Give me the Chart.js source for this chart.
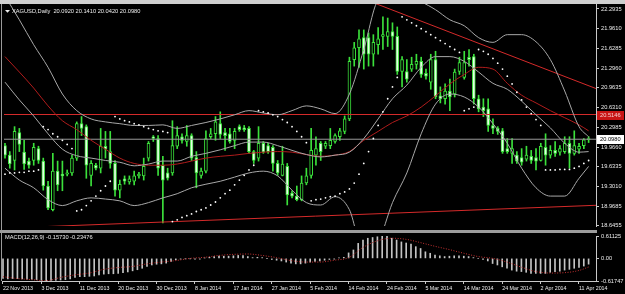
<!DOCTYPE html>
<html><head><meta charset="utf-8">
<script src="https://cdn.jsdelivr.net/npm/chart.js@4"></script>
<style>
html,body{margin:0;padding:0;background:#000;}
body{width:625px;height:294px;position:relative;overflow:hidden;}
#main{position:absolute;left:0;top:0;}
#macd{position:absolute;left:0;top:233px;}
#topbar{position:absolute;left:0;top:0;width:625px;height:4px;background:#cfcfcf;}
#sep{position:absolute;left:0;top:230px;width:597px;height:3px;background:#9c9c9c;}
#lb{position:absolute;left:1px;top:4px;width:1px;height:277px;background:#9a9a9a;}
</style></head><body>
<canvas id="main" width="625" height="230"></canvas>
<canvas id="macd" width="625" height="61"></canvas>
<div id="topbar"></div><div id="sep"></div><div id="lb"></div>
<script>
// ---------------- DATA ----------------
const symbol = 'XAGUSD,Daily';
const dateTickIdx = [0,8,16,24,32,40,48,56,64,72,80,88,96,104,112,120];
const dateTickLabels = ["22 Nov 2013","3 Dec 2013","11 Dec 2013","20 Dec 2013","30 Dec 2013","8 Jan 2014","17 Jan 2014","27 Jan 2014","5 Feb 2014","14 Feb 2014","24 Feb 2014","5 Mar 2014","14 Mar 2014","24 Mar 2014","2 Apr 2014","11 Apr 2014"];
const priceTicks = [22.2935,21.9610,21.6285,21.2960,20.9635,20.6310,20.2985,19.9660,19.6335,19.3010,18.9685,18.6455];
const macdTickValues = [-0.61747, 0, 0.61125];
const macdTickLabels = ["-0.61747","0.00","0.61125"];

const open = [
19.99,19.83,19.74,20.21,19.88,19.73,19.74,19.94,19.73,19.31,
18.91,19.56,19.51,19.51,19.53,19.78,20.36,20.31,19.49,19.66,
19.61,19.98,19.89,19.69,19.24,19.43,19.38,19.39,19.48,19.48,
19.78,20.14,20.11,19.66,19.53,19.53,19.98,20.14,20.06,20.16,
19.79,19.49,19.56,20.14,20.19,20.36,20.21,20.19,20.08,20.31,
20.29,20.28,19.89,19.78,20.03,19.99,19.96,19.69,19.49,19.64,
19.19,19.14,19.08,19.36,19.49,19.83,20.03,19.98,19.99,20.06,
20.14,20.23,20.44,21.44,21.64,21.81,21.81,21.53,21.69,21.83,
21.83,21.91,21.83,21.24,21.24,21.28,21.36,21.41,21.21,21.06,
21.44,20.83,20.78,20.91,20.86,21.24,21.14,21.48,21.49,20.78,
20.64,20.61,20.33,20.28,20.24,19.94,19.86,19.83,19.79,19.76,
19.81,19.79,19.74,19.96,19.83,19.91,19.88,19.89,20.03,19.86,
19.93,19.99,20.092];
const high = [
20.03,19.89,20.31,20.28,20.08,19.78,20.03,19.98,19.78,19.39,
19.86,19.73,19.73,19.58,19.83,20.39,20.48,20.34,19.74,19.69,
20.28,20.23,20.23,19.74,19.41,19.48,19.48,19.56,19.54,19.78,
20.06,20.16,20.16,19.81,19.61,20.41,20.31,20.19,20.33,20.19,
19.89,19.61,20.24,20.28,20.48,20.56,20.28,20.28,20.28,20.34,
20.33,20.31,19.91,20.31,20.06,20.03,19.99,19.74,19.98,19.69,
19.23,19.31,19.48,19.61,20.28,20.14,20.06,20.06,20.28,20.19,
20.28,20.49,21.48,21.73,21.94,21.94,21.89,21.86,21.98,22.16,
22.14,22.06,21.99,21.49,21.44,21.48,21.53,21.48,21.28,21.53,
21.58,20.98,21.03,21.11,21.28,21.48,21.58,21.61,21.53,20.84,
20.78,20.78,20.44,20.31,20.28,20.11,20.11,19.89,19.94,19.98,
19.91,19.94,20.03,20.19,19.99,20.06,19.99,20.14,20.14,20.24,
20.03,20.11,20.141];
const low = [
19.78,19.61,19.58,19.89,19.59,19.61,19.66,19.69,19.24,18.91,
18.89,19.23,19.23,19.48,19.49,19.74,20.16,19.44,19.31,19.58,
19.53,19.78,19.61,19.14,19.11,19.34,19.34,19.33,19.44,19.41,
19.73,20.06,19.49,18.69,19.41,19.49,19.94,20.03,19.98,19.74,
19.28,19.44,19.53,20.11,20.08,20.11,19.91,20.03,19.94,20.23,
20.23,19.86,19.69,19.73,19.86,19.86,19.56,19.49,19.48,18.99,
19.11,19.06,19.06,19.33,19.44,19.66,19.74,19.94,19.94,20.03,
20.08,20.19,20.41,21.33,21.31,21.28,21.33,21.33,21.53,21.61,
21.66,21.61,21.19,20.98,21.06,21.24,21.28,21.14,21.11,20.94,
20.78,20.71,20.69,20.58,20.81,21.19,21.11,21.33,20.69,20.56,
20.48,20.23,20.19,20.18,19.86,19.86,19.69,19.69,19.66,19.73,
19.69,19.58,19.73,19.66,19.78,19.81,19.83,19.86,19.61,19.83,
19.86,19.94,20.042];
const close = [
19.83,19.68,20.23,20.01,19.68,19.66,19.96,19.74,19.31,18.94,
19.56,19.33,19.48,19.53,19.78,20.36,20.28,19.66,19.69,19.61,
19.98,19.93,19.69,19.24,19.34,19.39,19.43,19.48,19.51,19.64,
20.03,20.11,19.61,19.41,19.44,19.99,20.16,20.08,20.16,19.78,
19.53,19.56,20.11,20.19,20.39,20.18,20.16,20.06,20.23,20.26,
20.26,19.89,19.74,20.03,19.88,19.89,19.69,19.53,19.68,19.16,
19.14,19.08,19.36,19.48,19.91,19.94,19.89,20.03,20.08,20.16,
20.24,20.44,21.41,21.64,21.79,21.53,21.53,21.73,21.79,21.86,
21.91,21.83,21.24,21.44,21.11,21.36,21.41,21.19,21.16,21.44,
20.81,20.78,20.91,20.81,21.23,21.39,21.39,21.44,20.78,20.61,
20.58,20.33,20.28,20.23,19.89,19.89,19.94,19.73,19.71,19.83,
19.74,19.73,19.98,19.83,19.91,19.86,19.94,20.03,19.86,19.99,
19.98,20.09,20.098];

// indicator lines sampled every 3 bars (bar index in sampleIdx)
const sampleIdx = [0,3,6,9,12,15,18,21,24,27,30,33,36,39,42,45,48,51,54,57,60,63,66,69,72,75,78,81,84,87,90,93,96,99,102,105,108,111,114,117,120,122];
const bbUpper = [22.51,22.11,21.69,21.31,20.86,20.58,20.44,20.39,20.36,20.33,20.33,20.34,20.28,20.33,20.38,20.44,20.51,20.58,20.54,20.51,20.58,20.66,20.61,20.53,20.86,21.61,22.44,22.53,22.48,22.41,22.28,22.11,22.01,21.81,21.73,21.86,21.86,21.74,21.44,20.91,20.31,20.14];
const bbMiddle = [21.06,20.76,20.49,20.19,19.93,19.82,19.78,19.74,19.71,19.65,19.68,19.73,19.73,19.81,19.86,19.92,19.99,20.05,20.05,19.99,19.91,19.84,19.80,19.83,19.88,20.11,20.44,20.78,21.01,21.31,21.49,21.49,21.41,21.23,21.04,20.94,20.74,20.51,20.29,20.03,19.88,19.89];
const bbLower = [19.61,19.41,19.28,19.08,18.98,19.06,19.11,19.09,19.06,18.98,19.03,19.11,19.18,19.28,19.34,19.39,19.46,19.53,19.56,19.48,19.24,19.03,18.99,19.13,18.91,18.19,18.36,19.03,19.53,20.19,20.69,20.86,20.81,20.64,20.36,20.03,19.61,19.28,19.14,19.14,19.44,19.64];
const maRed = [21.49,21.23,20.96,20.66,20.41,20.26,20.08,19.93,19.78,19.69,19.66,19.66,19.68,19.73,19.78,19.81,19.83,19.86,19.88,19.89,19.88,19.84,19.81,19.83,19.89,20.08,20.23,20.38,20.49,20.64,20.83,21.03,21.19,21.31,21.28,21.04,20.84,20.71,20.58,20.46,20.34,20.24];
const sar = [
19.51,19.53,19.53,19.54,19.54,19.56,19.56,19.58,
20.31,20.26,20.19,20.14,20.08,20.01,19.94,
18.89,18.91,18.98,19.06,19.14,19.23,19.31,19.39,
20.48,20.44,20.41,20.39,20.36,20.34,20.31,20.28,20.26,20.24,20.23,20.21,
18.71,18.74,18.78,18.81,18.84,18.88,18.91,18.94,18.99,19.04,19.11,19.18,19.24,19.33,19.41,19.49,19.58,19.66,
20.58,20.56,20.54,20.51,20.48,20.43,20.38,20.31,20.23,20.14,20.04,
19.06,19.08,19.09,19.11,19.13,19.14,19.18,19.21,19.26,19.36,19.51,19.69,19.89,20.11,20.33,20.56,20.78,20.98,21.14,
22.16,22.11,22.06,22.01,21.96,21.91,21.86,21.81,21.76,21.71,21.66,21.61,21.56,
20.58,20.61,20.64,
21.61,21.58,21.53,21.46,21.38,21.28,21.16,21.03,20.89,20.76,20.64,20.53,20.43,20.33,
19.58,19.58,19.58,19.59,19.59,19.59,19.61,19.64,19.69,19.74];
// drawn objects (bar index, price)
const trendDownIdx = [77.6, 123.6];
const trendDownPrice = [22.38, 20.95];
const trendUpIdx = [0, 123.6];
const trendUpPrice = [18.60, 18.985];
const redLevel = 20.5146;

// MACD(12,26,9)
const macdHist = [
-0.55,-0.56,-0.55,-0.55,-0.56,-0.57,-0.57,-0.58,-0.60,-0.62,
-0.60,-0.60,-0.59,-0.58,-0.56,-0.52,-0.50,-0.50,-0.49,-0.48,
-0.45,-0.43,-0.42,-0.42,-0.41,-0.39,-0.37,-0.34,-0.31,-0.27,
-0.22,-0.18,-0.16,-0.15,-0.13,-0.08,-0.04,-0.02,-0.01,-0.01,
-0.02,-0.02,0.01,0.03,0.05,0.06,0.06,0.06,0.07,0.08,
0.08,0.05,0.02,0.03,0.02,0.00,-0.03,-0.05,-0.07,-0.10,
-0.13,-0.15,-0.15,-0.13,-0.10,-0.08,-0.07,-0.05,-0.03,-0.02,
0.01,0.03,0.15,0.23,0.41,0.50,0.55,0.57,0.59,0.61,
0.60,0.55,0.50,0.45,0.42,0.39,0.32,0.27,0.18,0.14,
0.09,0.07,0.05,0.06,0.07,0.07,0.06,0.05,0.02,0.00,
-0.03,-0.07,-0.14,-0.18,-0.23,-0.27,-0.32,-0.35,-0.36,-0.38,
-0.41,-0.41,-0.41,-0.41,-0.38,-0.36,-0.35,-0.32,-0.30,-0.27,
-0.25,-0.21,-0.1573];
const macdSignal = [-0.50,-0.55,-0.58,-0.61,-0.52,-0.45,-0.40,-0.30,-0.25,-0.22,-0.15,-0.10,-0.06,0.00,0.03,0.08,0.11,0.12,0.08,0.02,-0.06,-0.10,-0.10,-0.05,0.02,0.30,0.48,0.55,0.52,0.43,0.33,0.24,0.14,0.05,0.00,-0.10,-0.24,-0.36,-0.40,-0.39,-0.33,-0.23476];

// ---------------- STYLE ----------------
const FONT = '"Liberation Sans", Arial, sans-serif';
const TXT = '#ececec';
const LIME = '#3be03b';
const BULL_FILL = '#000000';
const BEAR_FILL = '#e4ffe4';
const BB_COL = '#a8a8a8';
const MA_COL = '#b01c1c';
const TL_COL = '#d42a2a';
const AX_COL = '#c8c8c8';
const AXIS_W = 29;
const X_MIN = -0.208, X_MAX = 123.542;
const Y_MAX = 22.3766, Y_MIN = 18.636;

const fitY = s => { s.width = AXIS_W; s.paddingTop = 0; s.paddingBottom = 0; };
const last = close.length - 1;

const bodies = open.map((o,i)=>({x:i, y:[o, close[i]]}));
const wicks = low.map((l,i)=>({x:i, y:[l, high[i]]}));
const bodyFill = open.map((o,i)=> close[i] >= o ? BULL_FILL : BEAR_FILL);
const pts = (xs, ys) => xs.map((x,k)=>({x, y: ys[k]}));
const lineDs = (data, color, extra) => Object.assign({type:'line', data, borderColor: color, borderWidth: 1, pointRadius: 0, fill:false, order: 1}, extra||{});

const mainHeader = {
  id: 'mainHeader',
  afterDraw(chart){
    const c = chart.ctx, ys = chart.scales.y;
    c.save();
    c.fillStyle = TXT;
    c.beginPath(); c.moveTo(5,10); c.lineTo(10,10); c.lineTo(7.5,12.8); c.closePath(); c.fill();
    c.font = '5.7px ' + FONT; c.textBaseline = 'middle'; c.textAlign = 'left';
    c.fillText(symbol + '  ' + open[last].toFixed(4) + ' ' + high[last].toFixed(4) + ' ' + low[last].toFixed(4) + ' ' + close[last].toFixed(4), 12, 11.5);
    // red level label box
    let yp = ys.getPixelForValue(redLevel);
    c.fillStyle = '#c81414'; c.fillRect(597, Math.round(yp) - 4, 27, 9);
    c.fillStyle = '#f4d0d0'; c.fillText(redLevel.toFixed(4), 600, Math.round(yp) + 0.5);
    // current price box
    yp = ys.getPixelForValue(close[last]);
    c.fillStyle = '#ffffff'; c.fillRect(597, Math.round(yp) - 4, 27, 9);
    c.fillStyle = '#000000'; c.fillText(close[last].toFixed(4), 600, Math.round(yp) + 0.5);
    c.restore();
  }
};

new Chart(document.getElementById('main'), {
  type: 'bar',
  data: { datasets: [
    {type:'line', data: sar.map((v,i)=>({x:i,y:v})), showLine:false, pointRadius:0.9, pointBackgroundColor:'#ffffff', pointBorderWidth:0, order:0},
    lineDs(pts(sampleIdx, bbUpper), BB_COL, {cubicInterpolationMode:'monotone'}),
    lineDs(pts(sampleIdx, bbMiddle), BB_COL, {cubicInterpolationMode:'monotone'}),
    lineDs(pts(sampleIdx, bbLower), BB_COL, {cubicInterpolationMode:'monotone'}),
    lineDs(pts(sampleIdx, maRed), MA_COL, {cubicInterpolationMode:'monotone'}),
    lineDs(pts(trendDownIdx, trendDownPrice), TL_COL),
    lineDs(pts(trendUpIdx, trendUpPrice), TL_COL),
    lineDs([{x:X_MIN,y:redLevel},{x:X_MAX,y:redLevel}], TL_COL),
    lineDs([{x:X_MIN,y:close[last]},{x:X_MAX,y:close[last]}], '#9a9a9a'),
    {type:'bar', data: bodies, backgroundColor: bodyFill, borderColor: LIME, borderWidth: 1, borderSkipped: false, barThickness: 3, grouped: false, minBarLength: 1, order: 2},
    {type:'bar', data: wicks, backgroundColor: LIME, barThickness: 1, grouped: false, order: 3}
  ]},
  options: {
    responsive: false, animation: false, devicePixelRatio: 1, events: [],
    layout: { padding: { left: 2, right: 0, top: 4, bottom: 1 } },
    plugins: { legend: { display: false }, tooltip: { enabled: false } },
    scales: {
      x: { type: 'linear', min: X_MIN, max: X_MAX, offset: false, display: false, grid: { offset: false } },
      y: { type: 'linear', position: 'right', min: Y_MIN, max: Y_MAX,
           afterFit: fitY,
           afterBuildTicks: s => { s.ticks = priceTicks.map(v => ({value: v})); },
           ticks: { color: TXT, font: { size: 5.7, family: FONT }, padding: 2, callback: v => Number(v).toFixed(4) },
           grid: { drawOnChartArea: false, drawTicks: true, tickLength: 3, color: AX_COL },
           border: { display: true, color: AX_COL } }
    }
  },
  plugins: [mainHeader]
});

const macdHeader = {
  id: 'macdHeader',
  afterDraw(chart){
    const c = chart.ctx;
    c.save();
    c.fillStyle = TXT; c.font = '5.7px ' + FONT; c.textBaseline = 'middle'; c.textAlign = 'left';
    c.fillText('MACD(12,26,9) ' + macdHist[last].toFixed(5) + ' ' + macdSignal[macdSignal.length-1].toFixed(5), 5, 4.8);
    c.restore();
  }
};

new Chart(document.getElementById('macd'), {
  type: 'bar',
  data: { datasets: [
    lineDs(pts(sampleIdx, macdSignal), '#c83232', {borderDash: [1, 1.6], cubicInterpolationMode: 'monotone', order: 0}),
    {type:'bar', data: macdHist.map((v,i)=>({x:i, y:v})), backgroundColor: '#c4c4c4', barThickness: 1, grouped: false, order: 1}
  ]},
  options: {
    responsive: false, animation: false, devicePixelRatio: 1, events: [],
    layout: { padding: { left: 2, right: 0, top: 3, bottom: 0 } },
    plugins: { legend: { display: false }, tooltip: { enabled: false } },
    scales: {
      x: { type: 'linear', min: X_MIN, max: X_MAX, offset: false, position: 'bottom',
           afterFit: s => { s.height = 13; s.paddingLeft = 0; s.paddingRight = 0; },
           afterBuildTicks: s => { s.ticks = dateTickIdx.map(v => ({value: v})); },
           ticks: { color: TXT, font: { size: 5.3, family: FONT }, padding: 1, align: 'start', autoSkip: false, maxRotation: 0, minRotation: 0,
                    callback: (v, i) => dateTickLabels[i] },
           grid: { drawOnChartArea: false, drawTicks: true, tickLength: 3, color: AX_COL, offset: false },
           border: { display: true, color: AX_COL } },
      y: { type: 'linear', position: 'right', min: macdTickValues[0], max: macdTickValues[2],
           afterFit: fitY,
           afterBuildTicks: s => { s.ticks = macdTickValues.map(v => ({value: v})); },
           ticks: { color: TXT, font: { size: 5.7, family: FONT }, padding: 2, callback: (v, i) => macdTickLabels[i] },
           grid: { drawOnChartArea: false, drawTicks: true, tickLength: 3, color: AX_COL },
           border: { display: true, color: AX_COL } }
    }
  },
  plugins: [macdHeader]
});
</script></body></html>
